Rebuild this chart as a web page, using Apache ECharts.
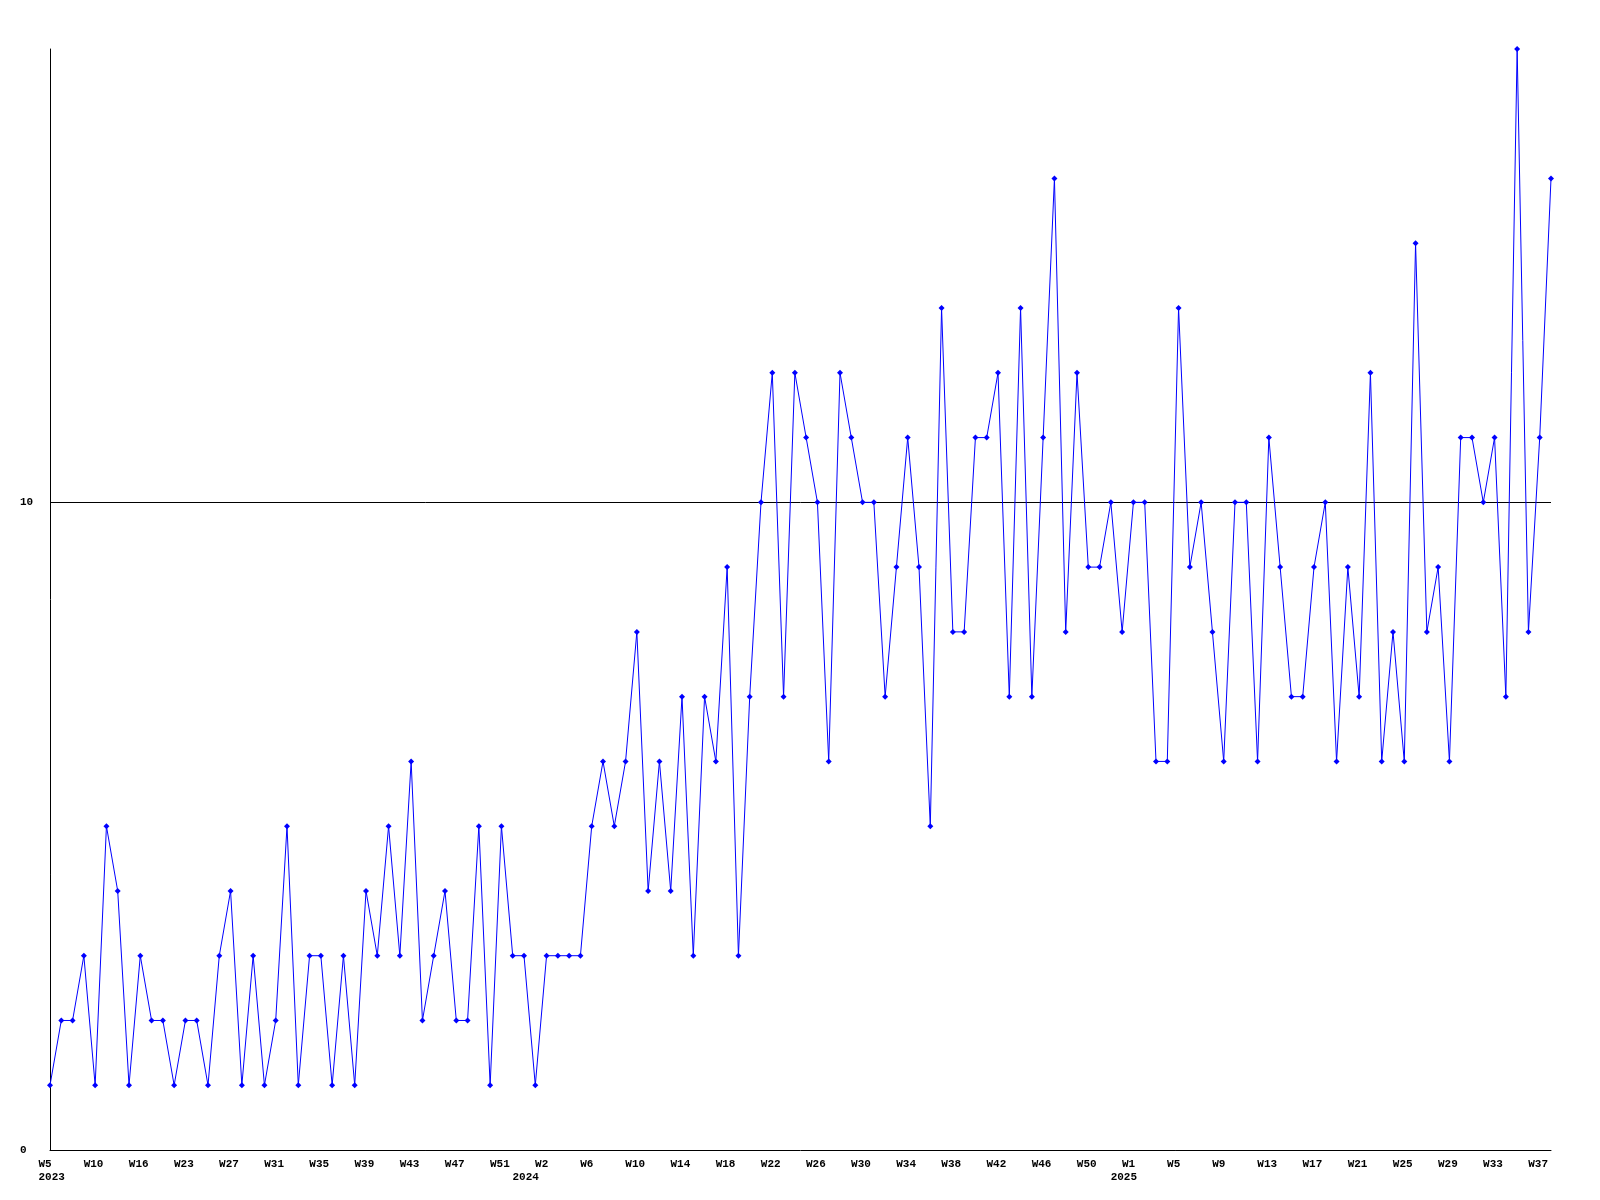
<!DOCTYPE html>
<html>
<head>
<meta charset="utf-8">
<script src="https://cdn.jsdelivr.net/npm/echarts@6/dist/echarts.min.js"></script>
<style>
html,body{margin:0;padding:0;background:#fff;}
#chart{width:1600px;height:1200px;}
</style>
</head>
<body>
<div id="chart"></div>
<script>
// Week tick labels, one every 4 data points
const tickLabels = ['W5','W10','W16','W23','W27','W31','W35','W39','W43','W47','W51',
  'W2','W6','W10','W14','W18','W22','W26','W30','W34','W38','W42','W46','W50',
  'W1','W5','W9','W13','W17','W21','W25','W29','W33','W37'];
// Year labels and the data point where each year starts
const years = ['2023','2024','2025'];
const yearStartIndex = [0, 42, 95];
// Weekly values
const values = [
  1,2,2,3,1,5,4,1,3,2,
  2,1,2,2,1,3,4,1,3,1,
  2,5,1,3,3,1,3,1,4,3,
  5,3,6,2,3,4,2,2,5,1,
  5,3,3,1,3,3,3,3,5,6,
  5,6,8,4,6,4,7,3,7,6,
  9,3,7,10,12,7,12,11,10,6,
  12,11,10,10,7,9,11,9,5,13,
  8,8,11,11,12,7,13,7,11,15,
  8,12,9,9,10,8,10,10,6,6,
  13,9,10,8,6,10,10,6,11,9,
  7,7,9,10,6,9,7,12,6,8,
  6,14,8,9,6,11,11,10,11,7,
  17,8,11,15
];
const TICK_EVERY = 4;
const categories = values.map((_, i) => String(i));

const FONT = 'Liberation Mono';
const labelRich = {
  a: { width: 23, align: 'left', fontFamily: FONT, fontWeight: 'bold', fontSize: 11, color: '#000', lineHeight: 13 }
};

const chart = echarts.init(document.getElementById('chart'), null, { renderer: 'canvas' });
chart.setOption({
  animation: false,
  backgroundColor: '#ffffff',
  grid: { left: 50, right: 49, top: 49, bottom: 50, containLabel: false },
  xAxis: [
    {
      type: 'category',
      data: categories,
      boundaryGap: false,
      axisLine: { show: true, lineStyle: { color: '#000', width: 1 } },
      axisTick: { show: false },
      splitLine: { show: false },
      axisLabel: {
        interval: 0,
        margin: 8,
        align: 'center',
        formatter: (v, i) => (i % TICK_EVERY === 0 && tickLabels[i / TICK_EVERY] !== undefined) ? '{a|' + tickLabels[i / TICK_EVERY] + '}' : '',
        rich: labelRich
      }
    },
    {
      type: 'category',
      data: categories,
      boundaryGap: false,
      position: 'bottom',
      offset: 13,
      axisLine: { show: false },
      axisTick: { show: false },
      splitLine: { show: false },
      axisLabel: {
        interval: 0,
        margin: 8,
        align: 'center',
        formatter: (v, i) => {
          const k = yearStartIndex.indexOf(i);
          return k >= 0 ? '{a|' + years[k] + '}' : '';
        },
        rich: labelRich
      }
    }
  ],
  yAxis: {
    type: 'value',
    min: 0,
    max: 17,
    interval: 10,
    axisLine: { show: true, lineStyle: { color: '#000', width: 1 } },
    axisTick: { show: false },
    splitLine: { show: true, showMinLine: false, showMaxLine: false, lineStyle: { color: '#000', width: 1 } },
    axisLabel: {
      showMaxLabel: false,
      align: 'left',
      margin: 30,
      fontFamily: FONT,
      fontWeight: 'bold',
      fontSize: 11,
      color: '#000'
    }
  },
  series: [{
    type: 'line',
    xAxisIndex: 0,
    data: values,
    symbol: 'diamond',
    symbolSize: 6,
    showSymbol: true,
    showAllSymbol: true,
    lineStyle: { color: '#0000ff', width: 1 },
    itemStyle: { color: '#0000ff' },
    emphasis: { disabled: true }
  }]
});
</script>
</body>
</html>
